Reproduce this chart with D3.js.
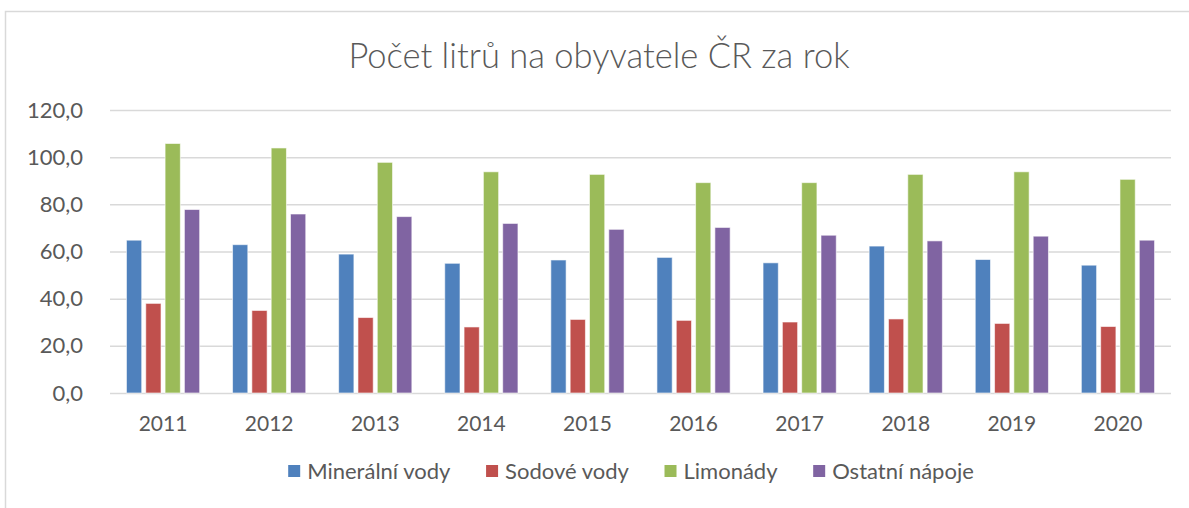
<!DOCTYPE html>
<html>
<head>
<meta charset="utf-8">
<script src="https://cdn.jsdelivr.net/npm/d3@7"></script>
<style>
  body { margin: 0; background: #fff; }
  text { font-family: Lato, "Open Sans", sans-serif; fill: #595959; }
</style>
</head>
<body>
<div id="chart"></div>
<script>
// data
var years = ["2011", "2012", "2013", "2014", "2015", "2016", "2017", "2018", "2019", "2020"];
var seriesNames = ["Minerální vody", "Sodové vody", "Limonády", "Ostatní nápoje"];
var mineralni = [64.8, 62.9, 58.9, 55.0, 56.4, 57.5, 55.2, 62.3, 56.6, 54.2];
var sodove = [38.0, 35.0, 32.0, 28.0, 31.2, 30.8, 30.1, 31.4, 29.5, 28.2];
var limonady = [105.8, 103.9, 97.8, 93.8, 92.7, 89.2, 89.2, 92.7, 93.8, 90.6];
var ostatni = [77.8, 75.9, 74.8, 71.9, 69.4, 70.2, 66.9, 64.5, 66.5, 64.8];
var yTicks = [0, 20, 40, 60, 80, 100, 120];
var colors = ["#4f81bd", "#c0504d", "#9bbb59", "#8064a2"];

var W = 1189, H = 508;
var margin = {top: 110, right: 18, bottom: 115, left: 110};
var width = W - margin.left - margin.right,
    height = H - margin.top - margin.bottom;

var values = [mineralni, sodove, limonady, ostatni];
var rows = years.map(function(y, i) {
    return {year: y, vals: values.map(function(v, s) { return {s: s, v: v[i]}; })};
});

var cz = d3.formatLocale({decimal: ",", thousands: " ", grouping: [3], currency: ["", " Kč"]});
var fmt = cz.format(".1f");

var svg = d3.select("#chart").append("svg")
    .attr("width", W)
    .attr("height", H);

// outer chart border
svg.append("rect")
    .attr("x", 5.5).attr("y", 11.5)
    .attr("width", W + 20).attr("height", H + 20)
    .attr("fill", "none")
    .attr("stroke", "#d9d9d9")
    .attr("stroke-width", 1.5);

svg.append("text")
    .attr("x", 599).attr("y", 68)
    .attr("text-anchor", "middle")
    .style("font-size", "34.5px")
    .style("font-weight", 300)
    .text("Počet litrů na obyvatele ČR za rok");

var g = svg.append("g").attr("transform", "translate(" + margin.left + "," + margin.top + ")");

// scales
var x0 = d3.scaleBand().domain(years).range([0, width]).paddingInner(0.31).paddingOuter(0.155);
var x1 = d3.scaleBand().domain(d3.range(seriesNames.length)).range([0, x0.bandwidth()]).paddingInner(0.21);
var y = d3.scaleLinear().domain([0, 120]).range([height, 0]);

// y axis with gridlines
var yAxis = g.append("g")
    .call(d3.axisLeft(y).tickValues(yTicks).tickFormat(fmt).tickSize(-width).tickPadding(27));
yAxis.select(".domain").remove();
yAxis.selectAll("line").attr("stroke", "#d9d9d9").attr("stroke-width", 1.5);
yAxis.selectAll("text").style("font-size", "22px").style("fill", "#595959");

// x axis
var xAxis = g.append("g")
    .attr("transform", "translate(0," + height + ")")
    .call(d3.axisBottom(x0).tickSize(0).tickPadding(23));
xAxis.select(".domain").remove();
xAxis.selectAll("text").style("font-size", "21px").style("fill", "#595959");

// bars
g.append("g").selectAll("g")
    .data(rows)
    .enter().append("g")
    .attr("transform", function(d) { return "translate(" + x0(d.year) + ",0)"; })
    .selectAll("rect")
    .data(function(d) { return d.vals; })
    .enter().append("rect")
    .attr("x", function(d) { return x1(d.s); })
    .attr("y", function(d) { return y(d.v); })
    .attr("width", x1.bandwidth())
    .attr("height", function(d) { return height - y(d.v); })
    .attr("fill", function(d) { return colors[d.s]; })
    .attr("stroke", "rgba(255,255,255,0.6)")
    .attr("stroke-width", 1);

// legend
var legend = svg.append("g").attr("transform", "translate(0,471)");
var items = legend.selectAll("g")
    .data(seriesNames)
    .enter().append("g");
items.append("rect")
    .attr("y", -6).attr("width", 12).attr("height", 12)
    .attr("fill", function(d, i) { return colors[i]; });
items.append("text")
    .attr("x", 19).attr("dy", "0.35em")
    .style("font-size", "22px")
    .text(function(d) { return d; });

var pos = 0, offsets = [];
items.each(function() {
    offsets.push(pos);
    pos += this.getBBox().width + 35;
});
var total = pos - 35;
var startX = 631 - total / 2;
items.attr("transform", function(d, i) { return "translate(" + (startX + offsets[i]) + ",0)"; });
</script>
</body>
</html>
